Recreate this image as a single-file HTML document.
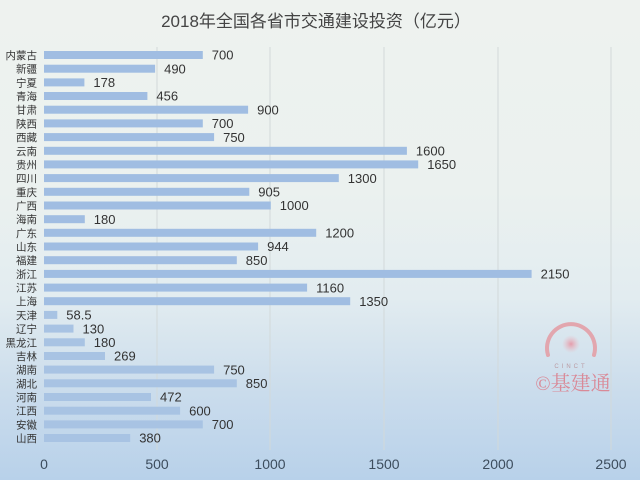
<!DOCTYPE html>
<html><head><meta charset="utf-8"><style>
html,body{margin:0;padding:0;}
body{width:640px;height:480px;overflow:hidden;background:linear-gradient(#eef2ef 0%,#ebf1ef 40%,#e2ecf0 62%,#cadcec 82%,#b8d1ea 100%);}
svg{display:block;}
.c{font-family:"Liberation Sans","Noto Sans CJK SC",sans-serif;font-size:10.5px;fill:#333;text-anchor:end;}
.v{font-family:"Liberation Sans",sans-serif;font-size:13px;fill:#333;}
.t{font-family:"Liberation Sans",sans-serif;font-size:14px;fill:#3d4d5d;text-anchor:middle;}
</style></head><body>
<svg width="640" height="480" viewBox="0 0 640 480" xmlns="http://www.w3.org/2000/svg">
<defs>
<radialGradient id="g"><stop offset="0" stop-color="#e88a9a" stop-opacity="0.8"/><stop offset="1" stop-color="#f0b0b8" stop-opacity="0"/></radialGradient>
</defs>
<text x="316" y="27" font-family="Liberation Sans,Noto Sans CJK SC,sans-serif" font-size="17" fill="#444" text-anchor="middle">2018年全国各省市交通建设投资（亿元）</text>
<g stroke="#d2d9da" stroke-width="1">
<line x1="157" y1="47" x2="157" y2="450"/>
<line x1="270" y1="47" x2="270" y2="450"/>
<line x1="384" y1="47" x2="384" y2="450"/>
<line x1="498" y1="47" x2="498" y2="450"/>
<line x1="611" y1="47" x2="611" y2="450"/>
</g>
<g fill="#a0bde2">
<rect x="44" y="51" width="158.8" height="8"/>
<rect x="44" y="64.7" width="111.1" height="8"/>
<rect x="44" y="78.4" width="40.4" height="8"/>
<rect x="44" y="92" width="103.4" height="8"/>
<rect x="44" y="105.7" width="204.1" height="8"/>
<rect x="44" y="119.4" width="158.8" height="8"/>
<rect x="44" y="133.1" width="170.1" height="8"/>
<rect x="44" y="146.8" width="362.9" height="8"/>
<rect x="44" y="160.4" width="374.2" height="8"/>
<rect x="44" y="174.1" width="294.8" height="8"/>
<rect x="44" y="187.8" width="205.3" height="8"/>
<rect x="44" y="201.5" width="226.8" height="8"/>
<rect x="44" y="215.2" width="40.8" height="8"/>
<rect x="44" y="228.8" width="272.2" height="8"/>
<rect x="44" y="242.5" width="214.1" height="8"/>
<rect x="44" y="256.2" width="192.8" height="8"/>
<rect x="44" y="269.9" width="487.6" height="8"/>
<rect x="44" y="283.6" width="263.1" height="8"/>
<rect x="44" y="297.2" width="306.2" height="8"/>
</g>
<g fill="#a8c3e3">
<rect x="44" y="310.9" width="13.3" height="8"/>
<rect x="44" y="324.6" width="29.5" height="8"/>
<rect x="44" y="338.3" width="40.8" height="8"/>
<rect x="44" y="352" width="61" height="8"/>
<rect x="44" y="365.6" width="170.1" height="8"/>
<rect x="44" y="379.3" width="192.8" height="8"/>
<rect x="44" y="393" width="107" height="8"/>
<rect x="44" y="406.7" width="136.1" height="8"/>
<rect x="44" y="420.4" width="158.8" height="8"/>
<rect x="44" y="434" width="86.2" height="8"/>
</g>
<g class="c">
<text x="37" y="59">内蒙古</text>
<text x="37" y="72.7">新疆</text>
<text x="37" y="86.4">宁夏</text>
<text x="37" y="100">青海</text>
<text x="37" y="113.7">甘肃</text>
<text x="37" y="127.4">陕西</text>
<text x="37" y="141.1">西藏</text>
<text x="37" y="154.8">云南</text>
<text x="37" y="168.4">贵州</text>
<text x="37" y="182.1">四川</text>
<text x="37" y="195.8">重庆</text>
<text x="37" y="209.5">广西</text>
<text x="37" y="223.2">海南</text>
<text x="37" y="236.8">广东</text>
<text x="37" y="250.5">山东</text>
<text x="37" y="264.2">福建</text>
<text x="37" y="277.9">浙江</text>
<text x="37" y="291.6">江苏</text>
<text x="37" y="305.2">上海</text>
<text x="37" y="318.9">天津</text>
<text x="37" y="332.6">辽宁</text>
<text x="37" y="346.3">黑龙江</text>
<text x="37" y="360">吉林</text>
<text x="37" y="373.6">湖南</text>
<text x="37" y="387.3">湖北</text>
<text x="37" y="401">河南</text>
<text x="37" y="414.7">江西</text>
<text x="37" y="428.4">安徽</text>
<text x="37" y="442">山西</text>
</g>
<g class="v">
<text x="211.8" y="59.7">700</text>
<text x="164.1" y="73.4">490</text>
<text x="93.4" y="87.1">178</text>
<text x="156.4" y="100.7">456</text>
<text x="257.1" y="114.4">900</text>
<text x="211.8" y="128.1">700</text>
<text x="223.1" y="141.8">750</text>
<text x="415.9" y="155.5">1600</text>
<text x="427.2" y="169.1">1650</text>
<text x="347.8" y="182.8">1300</text>
<text x="258.3" y="196.5">905</text>
<text x="279.8" y="210.2">1000</text>
<text x="93.8" y="223.9">180</text>
<text x="325.2" y="237.5">1200</text>
<text x="267.1" y="251.2">944</text>
<text x="245.8" y="264.9">850</text>
<text x="540.6" y="278.6">2150</text>
<text x="316.1" y="292.3">1160</text>
<text x="359.2" y="305.9">1350</text>
<text x="66.3" y="319.6">58.5</text>
<text x="82.5" y="333.3">130</text>
<text x="93.8" y="347">180</text>
<text x="114" y="360.7">269</text>
<text x="223.1" y="374.3">750</text>
<text x="245.8" y="388">850</text>
<text x="160" y="401.7">472</text>
<text x="189.1" y="415.4">600</text>
<text x="211.8" y="429.1">700</text>
<text x="139.2" y="442.7">380</text>
</g>
<g class="t">
<text x="44" y="469">0</text>
<text x="157" y="469">500</text>
<text x="270" y="469">1000</text>
<text x="384" y="469">1500</text>
<text x="498" y="469">2000</text>
<text x="611" y="469">2500</text>
</g>
<circle cx="571" cy="344" r="9" fill="url(#g)"/>
<path d="M 548 355 A 24 24 0 1 1 594 355" fill="none" stroke="#e2a6ae" stroke-width="4" stroke-linecap="round"/>
<text x="571" y="368" font-family="Liberation Sans,sans-serif" font-size="6" fill="#b99aa2" text-anchor="middle" letter-spacing="3">CINCT</text>
<text x="573" y="390" font-family="Liberation Serif,Noto Serif CJK SC,serif" font-size="20" fill="#d98a98" text-anchor="middle">©基建通</text>
</svg>
</body></html>
